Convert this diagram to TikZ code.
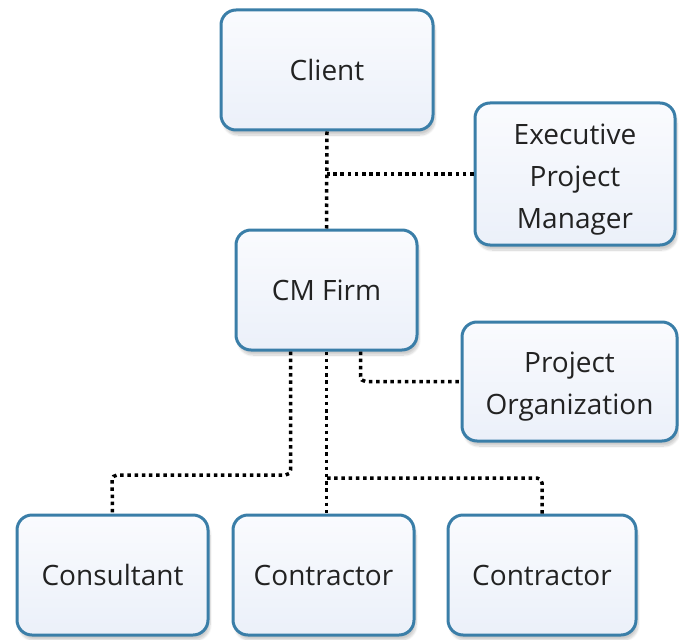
\documentclass[tikz,border=0pt]{standalone}
\usepackage{fontspec}
\setmainfont{Open Sans}
\usetikzlibrary{shadows.blur,calc}
\definecolor{boxline}{HTML}{3A7EA8}
\definecolor{boxtop}{HTML}{FAFBFE}
\definecolor{boxbot}{HTML}{EBF0F9}
\definecolor{txt}{HTML}{222222}
% stacked lines, drawn a little lower than their box
\newcommand{\boxlines}[1]{\raisebox{-4pt}[\height][\depth]{\begin{tabular}{@{}c@{}}#1\end{tabular}}}
\tikzset{
  orgbox/.style={draw=boxline, line width=3pt, rounded corners=15pt,
    top color=boxtop, bottom color=boxbot, align=center, text=txt,
    font=\fontsize{28}{42}\selectfont, inner sep=0pt,
    blur shadow={shadow xshift=2pt, shadow yshift=-5pt, shadow blur steps=10, shadow opacity=20}},
  conn/.style={line width=3.5pt, black, dash pattern=on 3.5pt off 3.7pt, rounded corners=5pt}
}
\begin{document}
\begin{tikzpicture}[x=1pt,y=-1pt]
\useasboundingbox (0,0) rectangle (679,639);
% boxes
\node[orgbox, minimum width=212pt, minimum height=120pt] (client) at (327,70) {Client};
\node[orgbox, minimum width=200pt, minimum height=142pt] (epm) at (575,174) {\boxlines{Executive\\Project\\Manager}};
\node[orgbox, minimum width=181pt, minimum height=120pt] (cm) at (326.5,290) {CM Firm};
\node[orgbox, minimum width=215pt, minimum height=119pt] (po) at (569.5,381.5) {\boxlines{Project\\Organization}};
\node[orgbox, minimum width=191pt, minimum height=120pt] (cons) at (112.5,575) {Consultant};
\node[orgbox, minimum width=181pt, minimum height=120pt] (con1) at (323.5,575) {Contractor};
\node[orgbox, minimum width=188pt, minimum height=120pt] (con2) at (542,575) {Contractor};
% bend points
\coordinate (jepm) at (327,174);
\coordinate (jcons) at (112,475);
\coordinate (jcon2) at (327,478);
% connectors
\draw[conn] (client.south) -- (cm.north);
\draw[conn] (epm.west) -- (jepm);
\draw[conn] ([xshift=34pt]cm.south) |- (po.west);
\draw[conn] ([xshift=-36pt]cm.south) |- (jcons) -- (cons.north);
\draw[conn] (cm.south) -- (cm.south |- con1.north);
\draw[conn] (jcon2) -| (con2.north);
\end{tikzpicture}
\end{document}
